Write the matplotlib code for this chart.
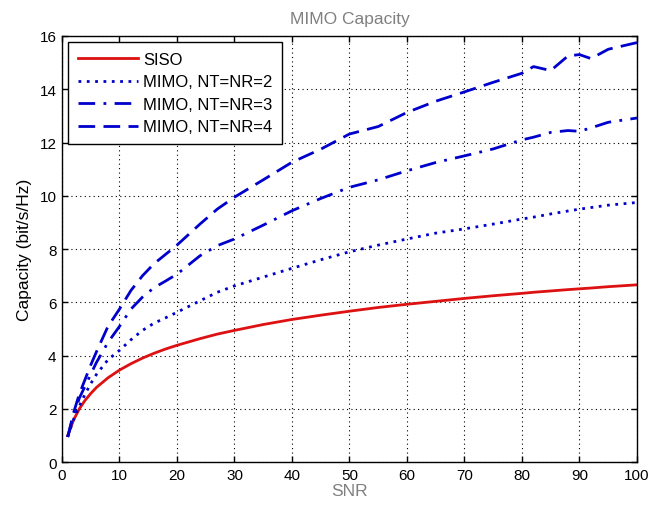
import matplotlib
matplotlib.use("Agg")
import matplotlib.pyplot as plt

plt.rcParams['font.family'] = ['Liberation Sans', 'DejaVu Sans']

snr = [1, 2, 3, 4, 5, 6, 8, 10, 12, 14, 16, 18, 20, 24, 27, 30, 35, 40, 45,
       50, 55, 60, 65, 70, 75, 80, 82, 85, 88, 90, 92, 95, 100]

siso = [1.0, 1.58, 2.0, 2.32, 2.58, 2.81, 3.17, 3.46, 3.70, 3.91, 4.09, 4.25,
        4.39, 4.64, 4.81, 4.95, 5.17, 5.36, 5.52, 5.67, 5.81, 5.93, 6.04,
        6.15, 6.25, 6.34, 6.38, 6.43, 6.48, 6.51, 6.54, 6.59, 6.66]

mimo2 = [0.97, 1.6, 2.1, 2.55, 2.95, 3.3, 3.85, 4.2, 4.6, 4.95, 5.22, 5.42,
         5.63, 6.06, 6.38, 6.62, 6.95, 7.28, 7.6, 7.9, 8.15, 8.38, 8.6,
         8.76, 8.94, 9.13, 9.2, 9.32, 9.43, 9.5, 9.56, 9.65, 9.75]

mimo3 = [0.95, 1.75, 2.4, 2.85, 3.3, 3.75, 4.5, 5.1, 5.75, 6.2, 6.55, 6.8,
         7.06, 7.75, 8.13, 8.38, 8.9, 9.44, 9.9, 10.32, 10.6, 10.94, 11.25,
         11.5, 11.76, 12.1, 12.2, 12.38, 12.45, 12.42, 12.55, 12.76, 12.92]

mimo4 = [0.95, 1.85, 2.55, 3.1, 3.65, 4.15, 5.1, 5.75, 6.45, 7.0, 7.45, 7.8,
         8.15, 8.94, 9.5, 9.95, 10.6, 11.26, 11.75, 12.32, 12.6, 13.13,
         13.55, 13.9, 14.26, 14.6, 14.85, 14.7, 15.25, 15.3, 15.15, 15.5,
         15.75]

blue = '#0000cc'

fig = plt.figure(figsize=(6.49, 5.06), dpi=100)
ax = fig.add_axes([0.0955, 0.0844, 0.886, 0.8426])

ax.plot(snr, siso, color='#dd1111', linewidth=2, label='SISO')
ax.plot(snr, mimo2, color=blue, linewidth=2, linestyle=(0, (1, 2)),
        label='MIMO, NT=NR=2')
ax.plot(snr, mimo3, color=blue, linewidth=2, linestyle=(0, (6, 3, 1, 3)),
        label='MIMO, NT=NR=3')
ax.plot(snr, mimo4, color=blue, linewidth=2, linestyle=(0, (6, 3)),
        label='MIMO, NT=NR=4')

ax.set_xlim(0, 100)
ax.set_ylim(0, 16)
ax.set_xticks(range(0, 101, 10))
ax.set_yticks(range(0, 17, 2))
ax.tick_params(direction='in', top=True, right=True, labelsize=11,
               length=4, width=1, pad=4)
ax.grid(True, color='black', linestyle=(0, (1, 3)), linewidth=0.8)
for s in ax.spines.values():
    s.set_linewidth(1)

ax.set_title('MIMO Capacity', color='#808080', fontsize=12.5, pad=9)
ax.set_xlabel('SNR', color='#808080', fontsize=12.5, labelpad=1)
ax.set_ylabel('Capacity (bit/s/Hz)', fontsize=12.5, labelpad=5)

leg = ax.legend(loc='upper left', fontsize=12, fancybox=False,
                edgecolor='black', framealpha=1, handlelength=3.6,
                handletextpad=0.3, borderpad=0.6, labelspacing=0.45,
                borderaxespad=0, bbox_to_anchor=(0.0105, 0.986))
leg.get_frame().set_linewidth(1)

plt.savefig('out.png', dpi=100)
plt.close()
